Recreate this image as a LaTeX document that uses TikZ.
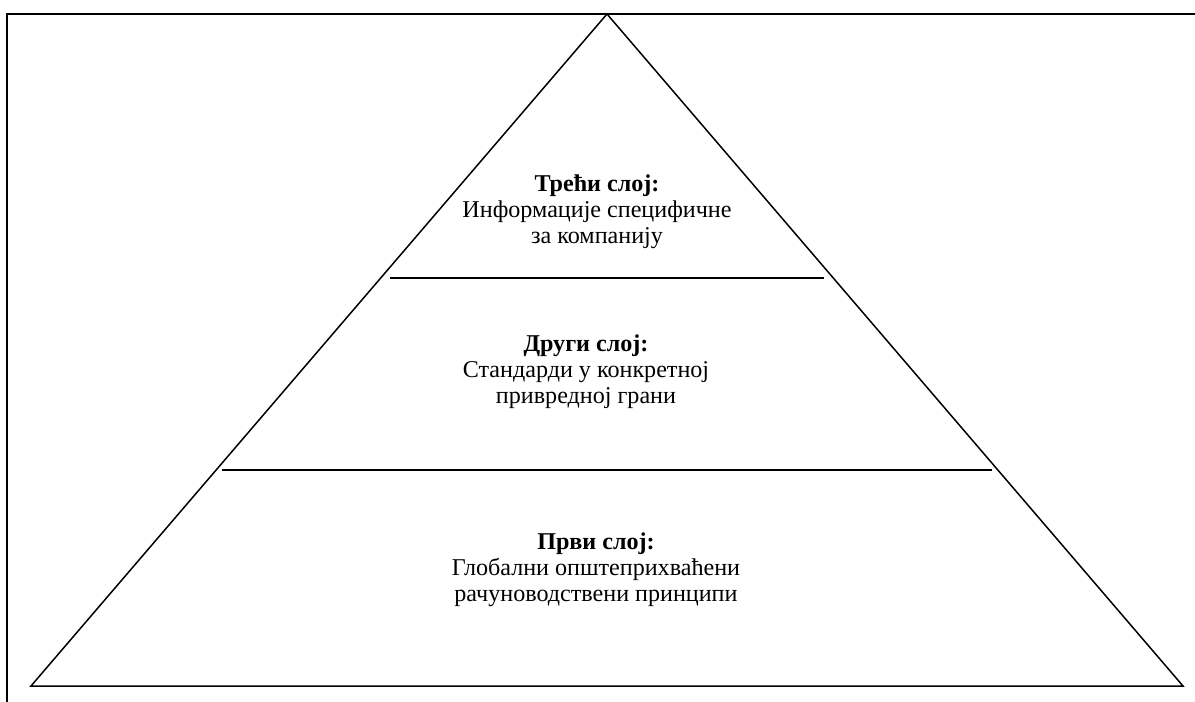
\documentclass[tikz,border=0pt]{standalone}
\usepackage{fontspec}
\setmainfont{Liberation Serif}
\begin{document}
\begin{tikzpicture}[x=1bp,y=-1bp,
  frameline/.style={line width=2bp,line cap=rect},
  edge/.style={line width=1.5bp,line join=miter},
  layerline/.style={line width=1.5bp},
  layertext/.style={align=center,inner sep=0pt,
    font=\fontsize{24.2}{26}\selectfont}]
  \useasboundingbox (0,0) rectangle (1195,702);
  % outer frame: top and left sides only
  \coordinate (fl) at (7,702);
  \coordinate (ft) at (7,14);
  \coordinate (fr) at (1195,14);
  \draw[frameline] (fl) -- (ft) -- (fr);
  % pyramid
  \coordinate (apex) at (607,14);
  \coordinate (bl) at (31,686);
  \coordinate (br) at (1183,686);
  \draw[edge] (apex) -- (bl) -- (br) -- cycle;
  % layer separators
  \coordinate (a1) at (390,278);
  \coordinate (a2) at (824,278);
  \coordinate (b1) at (222,470);
  \coordinate (b2) at (992,470);
  \draw[layerline] (a1) -- (a2);
  \draw[layerline] (b1) -- (b2);
  % layer labels
  \node[layertext] (top) at (597,212)
    {\textbf{Трећи слој:}\\Информације специфичне\\за компанију};
  \node[layertext] (mid) at (586,372)
    {\textbf{Други слој:}\\Стандарди у конкретној\\привредној грани};
  \node[layertext] (low) at (596,570)
    {\textbf{Први слој:}\\Глобални општеприхваћени\\рачуноводствени принципи};
\end{tikzpicture}
\end{document}
